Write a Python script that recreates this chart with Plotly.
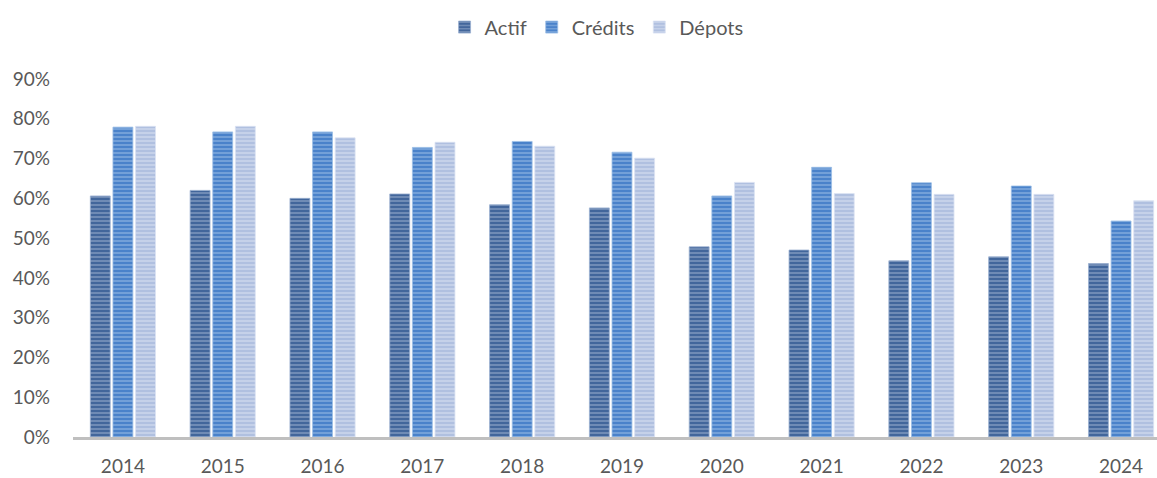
import plotly.graph_objects as go

years = ["2014", "2015", "2016", "2017", "2018", "2019", "2020", "2021", "2022", "2023", "2024"]
actif = [0.606, 0.62, 0.60, 0.611, 0.584, 0.576, 0.478, 0.470, 0.443, 0.453, 0.436]
credits = [0.779, 0.767, 0.767, 0.728, 0.743, 0.716, 0.606, 0.678, 0.639, 0.631, 0.543]
depots = [0.781, 0.781, 0.752, 0.741, 0.731, 0.701, 0.640, 0.612, 0.610, 0.610, 0.594]

series = [
    ("Actif", actif, "rgb(66,102,155)", "rgb(155,176,208)"),
    ("Crédits", credits, "rgb(74,130,202)", "rgb(155,190,230)"),
    ("Dépots", depots, "rgb(176,192,224)", "rgb(218,226,242)"),
]

fig = go.Figure()
for name, vals, bg, fg in series:
    fig.add_trace(go.Bar(
        x=years, y=vals, name=name,
        marker=dict(
            color=bg,
            line=dict(width=0.8, color=fg),
            pattern=dict(shape="-", fgcolor=fg, bgcolor=bg, size=4, solidity=0.5, fillmode="overlay"),
        ),
    ))

font_family = "Lato, Open Sans, sans-serif"
fig.update_layout(
    width=1157, height=478,
    margin=dict(l=73, r=0, t=79, b=41, autoexpand=False),
    paper_bgcolor="white", plot_bgcolor="white",
    barmode="group", bargap=0.32, bargroupgap=0.12,
    font=dict(family=font_family, size=19, color="#595959"),
    showlegend=True,
    legend=dict(orientation="h", x=0.483, xanchor="center", y=1.145, yanchor="middle",
                font=dict(size=20, color="#595959"), itemwidth=30, traceorder="normal"),
    xaxis=dict(type="category", range=[-0.5, 10.36], showgrid=False, ticks="",
               showline=True, linecolor="#bfbfbf", linewidth=3, ticklabelstandoff=10,
               automargin=False, tickfont=dict(size=19, color="#595959")),
    yaxis=dict(range=[0, 0.9], dtick=0.1, tickformat=".0%", showgrid=False, ticks="",
               zeroline=False, showline=False, ticklabelstandoff=22, automargin=False,
               tickfont=dict(size=19, color="#595959")),
)

fig.write_html("out.html", config={"displayModeBar": False},
               post_script="document.body.style.margin='0';document.body.style.overflow='hidden';")
